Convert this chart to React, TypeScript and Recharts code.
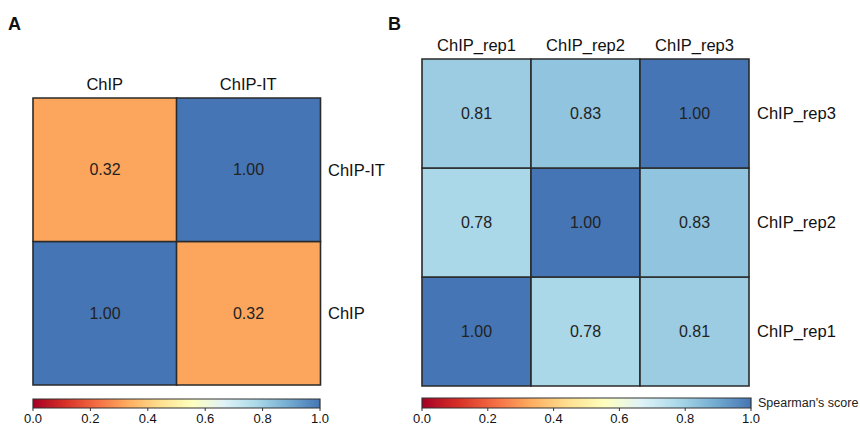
import { Bar, BarChart, Cell, LabelList, XAxis, YAxis } from "recharts";

// columns left to right, rows bottom to top; scores[row][col]
const colsA = ["ChIP", "ChIP-IT"];
const rowsA = ["ChIP", "ChIP-IT"];
const scoresA = [
  [1.0, 0.32],
  [0.32, 1.0],
];

const colsB = ["ChIP_rep1", "ChIP_rep2", "ChIP_rep3"];
const rowsB = ["ChIP_rep1", "ChIP_rep2", "ChIP_rep3"];
const scoresB = [
  [1.0, 0.78, 0.81],
  [0.78, 1.0, 0.83],
  [0.81, 0.83, 1.0],
];

const scaleTicks = [0, 0.2, 0.4, 0.6, 0.8, 1.0];

// RdYlBu-like palette used for the cells and the colour bar
const PALETTE = [
  "#a50026",
  "#d73027",
  "#f46d43",
  "#fdae61",
  "#fee090",
  "#ffffbf",
  "#e0f3f8",
  "#abd9e9",
  "#74add1",
  "#4575b4",
];

const FONT = "'Liberation Sans', Arial, sans-serif";
const BORDER = "#2a2a2a";

function hexToRgb(hex: string) {
  const n = parseInt(hex.slice(1), 16);
  return [(n >> 16) & 255, (n >> 8) & 255, n & 255];
}

function scoreColor(v: number): string {
  const t = Math.max(0, Math.min(1, v)) * (PALETTE.length - 1);
  const i = Math.min(PALETTE.length - 2, Math.floor(t));
  const f = t - i;
  const a = hexToRgb(PALETTE[i]);
  const b = hexToRgb(PALETTE[i + 1]);
  const c = a.map((x, k) => Math.round(x + (b[k] - x) * f));
  return `rgb(${c[0]},${c[1]},${c[2]})`;
}

type HeatmapProps = {
  cols: string[];
  rows: string[];
  scores: number[][];
  width: number;
  height: number;
  margin: { top: number; right: number; bottom: number; left: number };
};

function Heatmap({ cols, rows, scores, width, height, margin }: HeatmapProps) {
  const data = cols.map((col) => {
    const entry: Record<string, string | number> = { col };
    rows.forEach((_, r) => {
      entry[`r${r}`] = 1;
    });
    return entry;
  });
  const rowTicks = rows.map((_, r) => r + 0.5);

  return (
    <BarChart width={width} height={height} data={data} margin={margin} barCategoryGap={0}>
      <XAxis
        dataKey="col"
        orientation="top"
        height={30}
        axisLine={false}
        tickLine={false}
        tickMargin={2}
        tick={{ fill: "#111", fontSize: 16.5, fontFamily: FONT }}
      />
      <YAxis
        type="number"
        orientation="right"
        width={100}
        domain={[0, rows.length]}
        ticks={rowTicks}
        tickFormatter={(v: number) => rows[Math.floor(v)]}
        axisLine={false}
        tickLine={false}
        tick={{ fill: "#111", fontSize: 16.5, fontFamily: FONT }}
      />
      {rows.map((_, r) => (
        <Bar key={r} dataKey={`r${r}`} stackId="m" isAnimationActive={false}>
          {cols.map((_, c) => (
            <Cell key={c} fill={scoreColor(scores[r][c])} stroke={BORDER} strokeWidth={1.6} />
          ))}
          <LabelList
            content={(p: any) => (
              <text
                x={Number(p.x) + Number(p.width) / 2}
                y={Number(p.y) + Number(p.height) / 2}
                textAnchor="middle"
                dominantBaseline="central"
                fill="#222"
                fontSize={16}
                fontFamily={FONT}
              >
                {scores[r][p.index].toFixed(2)}
              </text>
            )}
          />
        </Bar>
      ))}
    </BarChart>
  );
}

type ColorBarProps = {
  id: string;
  width: number;
  height: number;
  margin: { top: number; right: number; bottom: number; left: number };
};

function ColorBar({ id, width, height, margin }: ColorBarProps) {
  return (
    <BarChart
      width={width}
      height={height}
      layout="vertical"
      data={[{ name: "scale", v: 1 }]}
      margin={margin}
      barCategoryGap={0}
    >
      <defs>
        <linearGradient id={id} x1="0" y1="0" x2="1" y2="0">
          {PALETTE.map((c, i) => (
            <stop key={c} offset={`${(i / (PALETTE.length - 1)) * 100}%`} stopColor={c} />
          ))}
        </linearGradient>
      </defs>
      <XAxis
        type="number"
        domain={[0, 1]}
        ticks={scaleTicks}
        height={17}
        axisLine={false}
        tickSize={3}
        tickMargin={3}
        tickLine={{ stroke: "#333" }}
        tickFormatter={(v: number) => v.toFixed(1)}
        tick={{ fill: "#111", fontSize: 13, fontFamily: FONT }}
      />
      <YAxis type="category" dataKey="name" hide />
      <Bar dataKey="v" fill={`url(#${id})`} stroke="#333" strokeWidth={1.2} isAnimationActive={false} />
    </BarChart>
  );
}

const panelLabel: React.CSSProperties = {
  position: "absolute",
  fontFamily: FONT,
  fontWeight: 700,
  fontSize: 18,
  color: "#111",
  lineHeight: "20px",
};

export default function App() {
  return (
    <div
      style={{
        position: "absolute",
        left: 0,
        top: 0,
        width: 860,
        height: 425,
        background: "#fff",
        overflow: "hidden",
      }}
    >
      <div style={{ ...panelLabel, left: 8, top: 14 }}>A</div>
      <div style={{ ...panelLabel, left: 388, top: 14 }}>B</div>

      <div style={{ position: "absolute", left: 0, top: 0 }}>
        <Heatmap
          cols={colsA}
          rows={rowsA}
          scores={scoresA}
          width={430}
          height={395}
          margin={{ top: 68, right: 10, bottom: 10, left: 33 }}
        />
      </div>
      <div style={{ position: "absolute", left: 0, top: 390 }}>
        <ColorBar id="cbA" width={430} height={35} margin={{ top: 9, right: 110, bottom: 0, left: 33 }} />
      </div>

      <div style={{ position: "absolute", left: 400, top: 0 }}>
        <Heatmap
          cols={colsB}
          rows={rowsB}
          scores={scoresB}
          width={460}
          height={395}
          margin={{ top: 29, right: 11, bottom: 9, left: 22 }}
        />
      </div>
      <div style={{ position: "absolute", left: 400, top: 390 }}>
        <ColorBar id="cbB" width={460} height={35} margin={{ top: 8, right: 109, bottom: 0, left: 22 }} />
      </div>
      <div
        style={{
          position: "absolute",
          left: 758,
          top: 395,
          fontFamily: FONT,
          fontSize: 12.5,
          lineHeight: "16px",
          color: "#222",
        }}
      >
        Spearman's score
      </div>
    </div>
  );
}
